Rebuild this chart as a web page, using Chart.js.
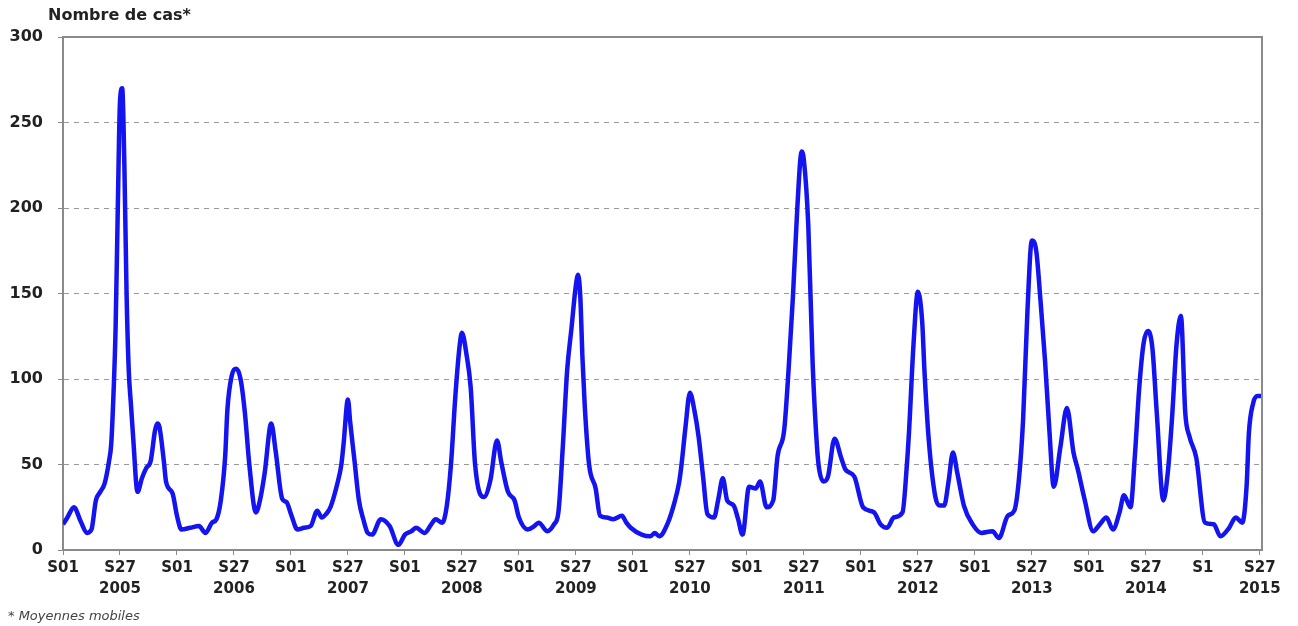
<!DOCTYPE html>
<html>
<head>
<meta charset="utf-8">
<script src="https://cdn.jsdelivr.net/npm/chart.js@4.4.1/dist/chart.umd.min.js"></script>
<style>
  html, body { margin: 0; padding: 0; background: #fff; }
  #wrap { width: 1298px; height: 626px; position: relative; }
</style>
</head>
<body>
<div id="wrap"><canvas id="myChart"></canvas></div>
<script>
// semaine (0 = S01 2005) et nombre de cas (moyennes mobiles)
const weeks = [
  0, 2, 5, 8, 11, 13, 15, 17, 19, 21, 22, 23, 24, 25, 26, 27, 28, 29, 30, 31, 32, 34, 36, 38, 40, 42, 43, 44, 46, 47, 50,
  52, 54, 58, 62, 65, 68, 70, 72, 74, 75, 77, 79, 81, 83, 85, 88, 90, 92, 95, 97, 100, 102,
  104, 107, 110, 113, 116, 118, 120, 122, 125, 127, 128, 130, 131, 133, 135, 137, 139, 141, 145, 149, 153,
  156, 159, 161, 165, 168, 170, 173, 175, 177, 179, 181, 182, 184, 186, 188, 192, 195, 198, 200, 203, 206,
  208, 212, 215, 217, 221, 224, 226, 228, 230, 232, 234, 235, 236, 237, 238, 240, 243, 245, 248, 251, 255, 257,
  259, 264, 268, 270, 272, 276, 279, 281, 282, 284, 286, 288, 290, 292, 294, 297, 299, 301, 303, 306, 308,
  310, 313, 316, 318, 321, 324, 326, 329, 331, 333, 335, 337, 338, 340, 342, 344, 345, 347, 349, 352, 355, 357, 361,
  365, 370, 373, 376, 379, 383, 385, 386, 388, 390, 392, 393, 395, 398, 400, 402, 404, 406, 408, 411,
  415, 419, 424, 427, 431, 434, 436, 438, 440, 442, 444, 446, 448, 450, 452, 455, 458, 461, 463, 466,
  470, 473, 476, 479, 482, 484, 487, 489, 491, 493, 495, 497, 499, 502, 504, 506, 508, 510, 512, 514, 517,
  521, 525, 528, 532, 535, 538, 540, 541, 543, 545, 547
];
const cases = [
  15, 19, 25, 17, 10, 12, 29, 34, 39, 52, 62, 90, 130, 200, 262, 270, 225, 150, 105, 85, 66, 34, 42, 48, 52, 70, 74, 72, 52, 40, 33,
  20, 12, 13, 14, 10, 16, 18, 29, 55, 82, 102, 106, 100, 80, 50, 22, 30, 45, 74, 58, 30, 28,
  21, 12, 13, 14, 23, 19, 21, 25, 38, 50, 62, 88, 75, 52, 29, 18, 10, 9, 18, 14, 3,
  9, 11, 13, 10, 15, 18, 16, 25, 50, 90, 120, 127, 115, 95, 50, 31, 41, 64, 51, 34, 29,
  19, 12, 14, 16, 11, 15, 22, 60, 105, 130, 155, 161, 148, 112, 85, 50, 36, 20, 19, 18, 20, 16,
  13, 9, 8, 10, 8, 16, 28, 39, 48, 72, 92, 82, 66, 43, 21, 19, 30, 42, 29, 26, 18,
  9, 37, 36, 40, 25, 29, 55, 70, 105, 148, 200, 233, 228, 190, 109, 60, 47, 40, 43, 65, 54, 47, 43,
  25, 22, 15, 13, 19, 22, 50, 70, 120, 151, 133, 105, 64, 31, 26, 26, 40, 57, 45, 26,
  15, 10, 11, 7, 20, 23, 40, 76, 140, 181, 175, 145, 111, 70, 37, 60, 83, 57, 47, 30,
  11, 15, 19, 12, 22, 32, 25, 55, 95, 121, 128, 118, 80, 29, 45, 78, 120, 137, 80, 66, 54,
  16, 15, 8, 13, 19, 16, 38, 68, 86, 90, 90
];
const tickWeeks = [0, 26, 52, 78, 104, 130, 156, 182, 208, 234, 260, 286, 312, 338, 364, 390, 416, 442, 468, 494, 520, 546];
const tickLabels = [
  'S01', ['S27', '2005'], 'S01', ['S27', '2006'], 'S01', ['S27', '2007'], 'S01', ['S27', '2008'],
  'S01', ['S27', '2009'], 'S01', ['S27', '2010'], 'S01', ['S27', '2011'], 'S01', ['S27', '2012'],
  'S01', ['S27', '2013'], 'S01', ['S27', '2014'], 'S1', ['S27', '2015']
];
const yTicks = [0, 50, 100, 150, 200, 250, 300];

const frameAndTexts = {
  id: 'frameAndTexts',
  afterDraw(chart) {
    const c = chart.ctx;
    const a = chart.chartArea;
    c.save();
    c.strokeStyle = '#8a8a8a';
    c.lineWidth = 2;
    c.beginPath();
    c.moveTo(a.left, a.top);
    c.lineTo(a.right, a.top);
    c.lineTo(a.right, a.bottom);
    c.stroke();
    c.fillStyle = '#222';
    c.textBaseline = 'middle';
    c.font = 'bold 16px "DejaVu Sans"';
    c.fillText('Nombre de cas*', 48, 16);
    c.fillStyle = '#444';
    c.font = 'oblique 13px "DejaVu Sans"';
    c.fillText('* Moyennes mobiles', 8, 617);
    c.restore();
  }
};

const ctx = document.getElementById('myChart');

new Chart(ctx, {
  type: 'line',
  data: {
    datasets: [{
      label: 'Nombre de cas',
      data: weeks.map((w, i) => ({ x: w, y: cases[i] })),
      borderColor: '#1414f0',
      borderWidth: 4.5,
      pointRadius: 0,
      cubicInterpolationMode: 'monotone',
      fill: false
    }]
  },
  options: {
    responsive: true,
    maintainAspectRatio: false,
    animation: false,
    layout: { padding: { top: 37, right: 36, bottom: 26, left: 0 } },
    plugins: { legend: { display: false }, tooltip: { enabled: false } },
    scales: {
      x: {
        type: 'linear',
        min: 0,
        max: 547,
        afterBuildTicks: s => { s.ticks = tickWeeks.map(v => ({ value: v })); },
        afterFit: s => { s.height = 50; },
        ticks: {
          autoSkip: false,
          maxRotation: 0,
          padding: 3,
          color: '#222',
          font: { family: 'DejaVu Sans', weight: 'bold', size: 15, lineHeight: 1.4 },
          callback: (v, i) => tickLabels[i]
        },
        grid: { drawOnChartArea: false, tickLength: 5, color: '#8a8a8a' },
        border: { color: '#8a8a8a', width: 2 }
      },
      y: {
        min: 0,
        max: 300,
        afterBuildTicks: s => { s.ticks = yTicks.map(v => ({ value: v })); },
        afterFit: s => { s.width = 63; },
        ticks: {
          padding: 15,
          color: '#222',
          font: { family: 'DejaVu Sans', weight: 'bold', size: 16 }
        },
        grid: {
          color: '#999',
          lineWidth: 1,
          tickLength: 5,
          tickColor: '#8a8a8a'
        },
        border: { color: '#8a8a8a', width: 2, dash: [5, 5] }
      }
    }
  },
  plugins: [frameAndTexts]
});
</script>
</body>
</html>
